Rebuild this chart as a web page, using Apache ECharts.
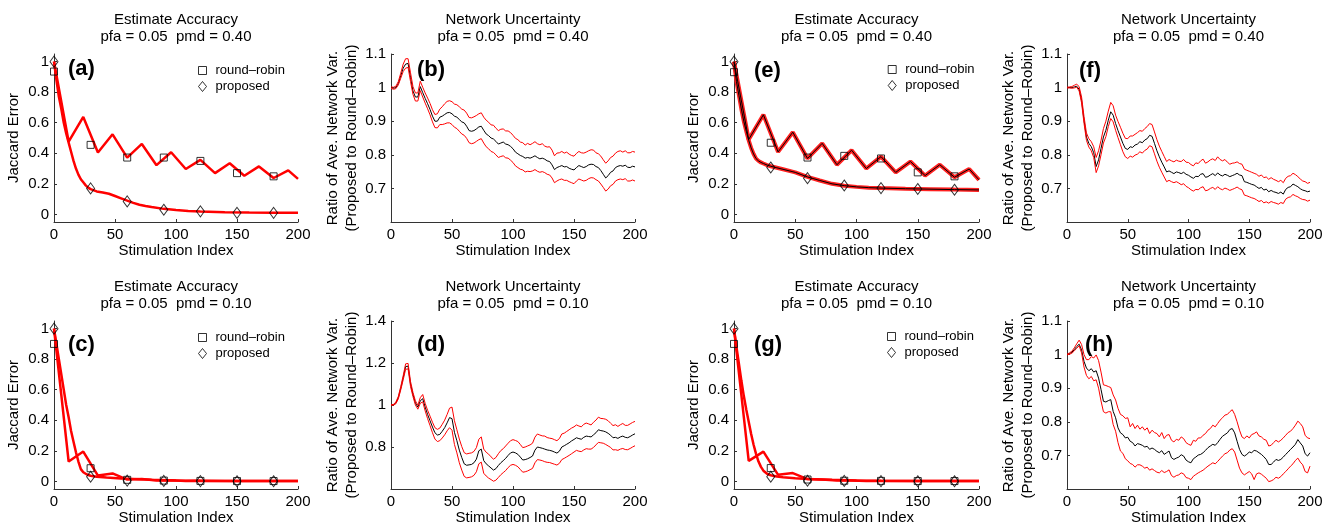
<!DOCTYPE html>
<html><head><meta charset="utf-8">
<script src="https://cdn.jsdelivr.net/npm/echarts@6/dist/echarts.min.js"></script>
<style>html,body{margin:0;padding:0;background:#fff}#c{width:1333px;height:527px}</style>
</head><body><div id="c"></div>
<script>
// ---------------- DATA ----------------
const MARK_X = [0, 30, 60, 90, 120, 150, 180];
const ACC_TICKS = [0, 0.2, 0.4, 0.6, 0.8, 1];
const NET_TICKS = [0.7, 0.8, 0.9, 1, 1.1];
const NET_TICKS_D = [0.8, 1, 1.2, 1.4];

// (a) accuracy, pmd = 0.40
const A_RR_X = [0,12,24,36,48,60,72,84,96,108,120,132,144,156,168,180,192,200];
const A_RR_Y = [1.0,.476,.638,.405,.524,.372,.461,.322,.407,.297,.357,.27,.335,.253,.314,.238,.288,.232];
const A_PR_X = [0,2,4,6,8,10,12,14,16,18,20,22,24,26,28,30,35,40,45,50,55,60,65,70,75,80,90,100,110,120,140,160,180,200];
const A_PR_Y = [1.0,.88,.77,.69,.6,.53,.47,.41,.35,.3,.26,.23,.21,.19,.175,.165,.15,.143,.135,.12,.105,.09,.075,.063,.055,.048,.036,.028,.022,.018,.014,.012,.011,.01];
const A_SQ_Y = [.935,.455,.372,.372,.35,.27,.249];
const A_DI_Y = [1.0,.17,.085,.03,.02,.01,.01];

// (c) accuracy, pmd = 0.10
const C_RR_X = [0,12,24,36,48,60,72,84,96,108,120,140,160,200];
const C_RR_Y = [1.0,.13,.195,.038,.052,.012,.015,.006,.008,.003,.004,.002,.002,.002];
const C_PR_X = [0,2,4,6,8,10,12,14,16,18,20,22,24,27,30,35,43,55,65,80,100,120,150,200];
const C_PR_Y = [1.0,.9,.8,.7,.6,.5,.42,.33,.26,.19,.13,.08,.06,.045,.037,.03,.025,.018,.015,.01,.006,.004,.003,.002];
const C_SQ_Y = [.9,.086,.01,.005,.003,.002,.002];
const C_DI_Y = [1.0,.03,.005,.003,.002,.001,.001];

// (e) accuracy, pmd = 0.40
const E_RR_X = [0,12,24,36,48,60,72,84,96,108,120,132,144,156,168,180,192,200];
const E_RR_Y = [1.0,.49,.652,.409,.538,.366,.465,.325,.42,.30,.378,.275,.346,.254,.325,.243,.297,.226];
const E_PR_X = [0,2,4,6,8,10,12,14,16,18,20,22,24,27,30,35,40,50,60,70,80,90,100,110,120,140,160,180,200];
const E_PR_Y = [1.0,.87,.78,.69,.61,.545,.485,.435,.395,.365,.35,.34,.333,.323,.315,.305,.295,.275,.245,.222,.2,.188,.18,.175,.172,.168,.165,.162,.16];
const E_SQ_Y = [.931,.469,.372,.383,.366,.275,.249];
const E_DI_Y = [1.0,.307,.237,.189,.172,.166,.161];

// (g) accuracy, pmd = 0.10
const G_RR_X = [0,12,24,36,48,60,72,84,96,108,120,140,160,200];
const G_RR_Y = [1.0,.134,.195,.043,.054,.015,.012,.006,.005,.003,.003,.002,.002,.002];
const G_PR_X = [0,2,4,6,8,10,12,14,16,18,20,22,24,27,30,35,40,50,60,70,80,100,120,150,200];
const G_PR_Y = [1.0,.88,.77,.66,.56,.47,.39,.31,.24,.18,.13,.095,.07,.05,.04,.032,.027,.02,.016,.013,.01,.006,.004,.003,.002];
const G_SQ_Y = [.9,.087,.012,.004,.003,.002,.002];
const G_DI_Y = [1.0,.03,.004,.003,.002,.001,.001];

// network uncertainty panels, sampled every 2 stimulations
const X_NET = [0,2,4,6,8,10,12,14,16,18,20,22,24,26,28,30,32,34,36,38,40,42,44,46,48,50,52,54,56,58,
60,62,64,66,68,70,72,74,76,78,80,82,84,86,88,90,92,94,96,98,100,102,104,106,108,110,112,114,116,118,
120,122,124,126,128,130,132,134,136,138,140,142,144,146,148,150,152,154,156,158,160,162,164,166,168,170,172,174,176,178,
180,182,184,186,188,190,192,194,196,198,200];

// (b)
const B_MEAN = [1.0,.998,1.0,1.012,1.035,1.058,1.07,1.072,1.03,.99,
.972,.972,1.003,.985,.968,.952,.935,.915,.9,.9,
.912,.915,.92,.925,.926,.922,.915,.912,.905,.898,
.895,.885,.872,.87,.872,.877,.883,.885,.873,.862,
.857,.85,.847,.84,.832,.835,.838,.832,.83,.825,
.818,.808,.803,.798,.795,.79,.792,.79,.793,.797,
.792,.788,.79,.787,.782,.78,.77,.756,.762,.765,
.768,.764,.765,.76,.757,.755,.762,.768,.765,.762,
.765,.77,.772,.771,.765,.762,.753,.742,.731,.738,
.748,.752,.762,.766,.768,.766,.769,.763,.762,.766,
.764];
const B_UP = [1.002,1.001,1.004,1.018,1.043,1.07,1.086,1.086,1.044,1.003,
.984,.984,1.019,1.001,.984,.969,.953,.934,.92,.922,
.936,.943,.952,.959,.961,.958,.951,.949,.943,.936,
.933,.924,.911,.91,.913,.917,.922,.925,.912,.903,
.897,.889,.888,.879,.872,.876,.877,.871,.871,.866,
.858,.849,.845,.838,.836,.829,.834,.83,.834,.839,
.833,.83,.833,.826,.823,.824,.814,.797,.805,.806,
.81,.805,.808,.802,.798,.796,.804,.81,.806,.805,
.808,.812,.815,.814,.806,.803,.796,.785,.775,.782,
.792,.796,.805,.81,.812,.808,.812,.806,.806,.81,
.808];
const B_LOW = [.998,.995,.997,1.008,1.028,1.048,1.058,1.06,1.018,.98,
.96,.96,.991,.972,.954,.937,.919,.898,.881,.88,
.89,.89,.892,.895,.895,.89,.882,.878,.87,.862,
.858,.849,.836,.833,.835,.84,.845,.848,.835,.824,
.818,.81,.807,.8,.792,.795,.797,.791,.79,.784,
.777,.767,.762,.757,.755,.749,.751,.75,.752,.756,
.751,.748,.75,.747,.742,.74,.731,.717,.722,.726,
.728,.724,.724,.72,.717,.714,.722,.728,.725,.722,
.724,.729,.732,.731,.726,.722,.713,.703,.692,.698,
.708,.712,.722,.726,.728,.726,.729,.722,.722,.725,
.722];

// (d)
const D_MEAN = [1.0,1.001,1.01,1.035,1.08,1.13,1.183,1.185,1.1,1.05,
1.01,.99,1.02,1.03,.99,.955,.925,.895,.868,.857,
.86,.875,.892,.915,.94,.935,.87,.83,.785,.75,
.72,.713,.715,.717,.725,.742,.782,.79,.735,.72,
.71,.7,.69,.697,.712,.725,.735,.746,.76,.772,
.776,.772,.765,.752,.738,.74,.744,.75,.757,.785,
.8,.797,.794,.79,.786,.784,.781,.776,.771,.78,
.8,.806,.813,.82,.829,.836,.844,.84,.837,.846,
.852,.85,.848,.858,.868,.882,.878,.876,.872,.865,
.856,.844,.846,.841,.848,.852,.846,.844,.85,.857,
.863];
const D_UP = [1.001,1.003,1.014,1.041,1.088,1.14,1.196,1.198,1.112,1.06,
1.02,.999,1.035,1.05,1.008,.975,.947,.918,.892,.884,
.89,.908,.928,.955,.985,.99,.925,.882,.838,.802,
.773,.767,.77,.772,.779,.797,.837,.848,.79,.775,
.766,.753,.742,.75,.768,.783,.792,.805,.818,.83,
.835,.831,.826,.812,.797,.8,.805,.81,.818,.847,
.862,.857,.853,.852,.845,.842,.84,.835,.83,.84,
.862,.866,.874,.882,.89,.896,.905,.9,.896,.908,
.914,.91,.905,.918,.928,.942,.936,.935,.932,.925,
.913,.902,.906,.898,.906,.912,.903,.903,.91,.917,
.922];
const D_LOW = [.999,.999,1.006,1.029,1.072,1.12,1.17,1.172,1.088,1.04,
1.0,.98,1.008,1.015,.972,.935,.902,.868,.838,.826,
.83,.843,.858,.877,.892,.88,.812,.772,.725,.69,
.66,.653,.655,.658,.665,.682,.72,.728,.675,.662,
.652,.645,.637,.642,.655,.668,.678,.688,.702,.713,
.717,.713,.706,.693,.68,.682,.686,.692,.698,.725,
.74,.738,.735,.73,.727,.726,.722,.718,.714,.722,
.74,.746,.753,.76,.768,.776,.784,.78,.778,.786,
.792,.79,.79,.798,.81,.822,.82,.818,.812,.805,
.798,.786,.787,.784,.79,.793,.788,.787,.793,.8,
.806];

// (f)
const F_MEAN = [1.0,1.0,1.0,1.002,1.004,.995,.962,.903,.853,.834,
.824,.806,.765,.785,.819,.853,.873,.903,.928,.918,
.893,.872,.853,.834,.819,.816,.824,.822,.829,.832,
.839,.836,.844,.848,.858,.855,.834,.812,.794,.778,
.764,.749,.752,.748,.744,.749,.747,.744,.748,.742,
.739,.734,.73,.736,.735,.742,.744,.733,.735,.74,
.744,.738,.746,.74,.737,.742,.739,.735,.738,.741,
.745,.74,.738,.72,.718,.715,.712,.71,.705,.7,
.703,.695,.698,.69,.694,.69,.688,.685,.689,.683,
.697,.703,.705,.713,.709,.705,.699,.695,.693,.69,
.692];
const F_UP = [1.001,1.002,1.003,1.007,1.01,1.003,.972,.914,.865,.848,
.839,.824,.792,.812,.843,.878,.9,.93,.956,.946,
.918,.899,.882,.864,.849,.848,.856,.856,.861,.866,
.872,.87,.878,.884,.893,.89,.868,.845,.826,.81,
.795,.78,.786,.782,.779,.784,.781,.78,.786,.778,
.777,.771,.767,.776,.774,.782,.787,.775,.779,.785,
.788,.783,.794,.786,.782,.786,.778,.772,.775,.776,
.779,.774,.772,.757,.754,.751,.748,.745,.742,.736,
.74,.732,.734,.727,.732,.727,.724,.72,.724,.717,
.73,.736,.738,.745,.741,.735,.728,.722,.72,.715,
.718];
const F_LOW = [.999,.999,.998,.999,1.001,.99,.954,.894,.843,.823,
.812,.792,.747,.767,.8,.835,.854,.884,.908,.898,
.873,.851,.83,.809,.794,.789,.796,.793,.799,.802,
.809,.805,.813,.817,.827,.824,.803,.781,.763,.748,
.734,.72,.724,.72,.717,.72,.716,.711,.714,.706,
.702,.696,.692,.697,.696,.702,.705,.693,.695,.7,
.703,.697,.705,.699,.696,.701,.698,.694,.697,.7,
.704,.699,.696,.68,.678,.675,.672,.67,.666,.661,
.664,.657,.66,.656,.661,.658,.656,.653,.658,.655,
.668,.673,.675,.682,.678,.675,.67,.667,.666,.662,
.665];

// (h)
const H_MEAN = [1.0,1.003,1.007,1.015,1.024,1.031,1.014,.98,.96,.952,
.958,.948,.952,.93,.896,.861,.859,.863,.866,.831,
.812,.782,.767,.762,.752,.754,.742,.738,.728,.735,
.733,.73,.725,.727,.718,.722,.718,.712,.708,.714,
.703,.708,.713,.693,.688,.692,.695,.702,.698,.686,
.681,.678,.69,.695,.701,.703,.708,.715,.723,.728,
.733,.73,.738,.748,.757,.762,.767,.777,.78,.767,
.742,.718,.703,.698,.703,.71,.708,.715,.713,.708,
.703,.696,.688,.673,.673,.68,.688,.685,.688,.695,
.703,.71,.718,.725,.733,.747,.737,.728,.705,.698,
.708];
const H_UP = [1.001,1.005,1.01,1.02,1.032,1.043,1.03,1.0,.985,.985,
.994,.99,.999,.982,.948,.91,.908,.905,.902,.88,
.865,.84,.822,.818,.81,.812,.785,.795,.78,.79,
.778,.785,.775,.782,.765,.775,.768,.765,.755,.768,
.75,.76,.762,.745,.74,.748,.745,.755,.75,.738,
.733,.73,.745,.742,.752,.752,.76,.765,.775,.78,
.79,.785,.795,.805,.812,.82,.822,.83,.836,.822,
.8,.775,.755,.75,.758,.752,.762,.765,.77,.758,
.755,.748,.745,.728,.73,.738,.745,.74,.745,.752,
.76,.768,.772,.78,.79,.802,.795,.785,.76,.752,
.75];
const H_LOW = [.999,1.001,1.004,1.011,1.019,1.026,1.005,.963,.938,.928,
.935,.922,.925,.9,.862,.83,.826,.83,.83,.792,
.772,.738,.713,.706,.69,.684,.676,.673,.665,.672,
.672,.668,.662,.665,.656,.66,.655,.65,.648,.655,
.649,.652,.657,.64,.635,.64,.642,.648,.645,.634,
.632,.628,.638,.643,.648,.652,.656,.662,.668,.673,
.678,.675,.682,.69,.698,.705,.708,.716,.72,.71,
.686,.662,.648,.642,.647,.652,.645,.628,.645,.648,
.644,.638,.632,.622,.624,.628,.635,.632,.637,.645,
.652,.66,.668,.675,.685,.692,.68,.672,.652,.648,
.668];

// ---------------- CHART ----------------
const FONT = "'Liberation Sans', Arial, Helvetica, sans-serif";
const AXC = '#333';
function pairs(xs, ys) { return xs.map((x, i) => [x, ys[i]]); }

const GRIDS = [
  {left: 54,   top: 54,  width: 244, height: 168}, // a
  {left: 391,  top: 54,  width: 244, height: 168}, // b
  {left: 54,   top: 321, width: 244, height: 168}, // c
  {left: 391,  top: 321, width: 244, height: 168}, // d
  {left: 734,  top: 54,  width: 245, height: 168}, // e
  {left: 1067, top: 54,  width: 243, height: 168}, // f
  {left: 734,  top: 321, width: 245, height: 168}, // g
  {left: 1067, top: 321, width: 243, height: 168}  // h
];
const KIND = ['acc','net','acc','net','acc','net','acc','net'];
const LETTERS = ['(a)','(b)','(c)','(d)','(e)','(f)','(g)','(h)'];
const PMD = ['0.40','0.40','0.10','0.10','0.40','0.40','0.10','0.10'];
const LETTER_POS = [[68,69],[417,70],[68,345],[417,345],[754,71],[1079,71],[754,345],[1085,345]];

const xAxes = GRIDS.map((g, i) => ({
  type: 'value', gridIndex: i, min: 0, max: 200, interval: 50,
  name: 'Stimulation Index', nameLocation: 'middle', nameGap: 20,
  nameTextStyle: {fontSize: 15, color: '#000', fontFamily: FONT},
  axisLine: {show: true, onZero: false, lineStyle: {color: AXC, width: 1}},
  axisTick: {show: true, inside: true, length: 3, lineStyle: {color: AXC}},
  axisLabel: {fontSize: 15, color: '#000', fontFamily: FONT, margin: 5},
  splitLine: {show: false}
}));

const yAxes = GRIDS.map((g, i) => {
  const base = {
    type: 'value', gridIndex: i, nameLocation: 'middle',
    nameTextStyle: {fontSize: 15, color: '#000', fontFamily: FONT, lineHeight: 19},
    axisLine: {show: true, onZero: false, lineStyle: {color: AXC, width: 1}},
    splitLine: {show: false}
  };
  if (KIND[i] === 'acc') {
    return Object.assign(base, {
      min: -0.05, max: 1.05, name: 'Jaccard Error', nameGap: 31,
      axisTick: {show: true, inside: true, length: 3, customValues: ACC_TICKS, lineStyle: {color: AXC}},
      axisLabel: {customValues: ACC_TICKS, fontSize: 15, color: '#000', fontFamily: FONT, margin: 5}
    });
  }
  const ticks = i === 3 ? NET_TICKS_D : NET_TICKS;
  return Object.assign(base, {
    min: 0.6, max: i === 3 ? 1.4 : 1.1,
    name: 'Ratio of Ave. Network Var.\n(Proposed to Round\u2013Robin)', nameGap: 29,
    axisTick: {show: true, inside: true, length: 3, customValues: ticks, lineStyle: {color: AXC}},
    axisLabel: {customValues: ticks, fontSize: 15, color: '#000', fontFamily: FONT, margin: 5}
  });
});

const series = [];
function line(i, data, color, width, name) {
  series.push({type: 'line', name: name, xAxisIndex: i, yAxisIndex: i, data: data,
    symbol: 'none', showSymbol: false, silent: true, animation: false,
    lineStyle: {color: color, width: width}, z: 2});
}
function markers(i, sq, di) {
  series.push({type: 'scatter', name: 'round\u2013robin', xAxisIndex: i, yAxisIndex: i,
    data: pairs(MARK_X, sq), symbol: 'rect', symbolSize: 7, silent: true, animation: false,
    itemStyle: {color: 'rgba(0,0,0,0)', borderColor: '#000', borderWidth: 1}, z: 3});
  series.push({type: 'scatter', name: 'proposed', xAxisIndex: i, yAxisIndex: i,
    data: pairs(MARK_X, di), symbol: 'diamond', symbolSize: [8, 11], silent: true, animation: false,
    itemStyle: {color: 'rgba(0,0,0,0)', borderColor: '#000', borderWidth: 1}, z: 3});
}
// accuracy panels
line(0, pairs(A_RR_X, A_RR_Y), '#ff0000', 2.5, 'rr_a');
line(0, pairs(A_PR_X, A_PR_Y), '#ff0000', 2.5, 'pr_a');
markers(0, A_SQ_Y, A_DI_Y);
line(2, pairs(C_RR_X, C_RR_Y), '#ff0000', 2.5, 'rr_c');
line(2, pairs(C_PR_X, C_PR_Y), '#ff0000', 2.5, 'pr_c');
markers(2, C_SQ_Y, C_DI_Y);
line(4, pairs(E_RR_X, E_RR_Y), '#ff2020', 4, 'rr_e');
line(4, pairs(E_PR_X, E_PR_Y), '#ff2020', 4, 'pr_e');
line(4, pairs(E_RR_X, E_RR_Y), '#000', 1, 'rr_e_m');
line(4, pairs(E_PR_X, E_PR_Y), '#000', 1, 'pr_e_m');
markers(4, E_SQ_Y, E_DI_Y);
line(6, pairs(G_RR_X, G_RR_Y), '#ff0000', 2.5, 'rr_g');
line(6, pairs(G_PR_X, G_PR_Y), '#ff0000', 2.5, 'pr_g');
markers(6, G_SQ_Y, G_DI_Y);
// network panels
[[1, B_MEAN, B_UP, B_LOW], [3, D_MEAN, D_UP, D_LOW], [5, F_MEAN, F_UP, F_LOW], [7, H_MEAN, H_UP, H_LOW]]
  .forEach(([i, m, u, l]) => {
    line(i, pairs(X_NET, m), '#000', 1, 'mean' + i);
    line(i, pairs(X_NET, u), '#ff0000', 1, 'up' + i);
    line(i, pairs(X_NET, l), '#ff0000', 1, 'low' + i);
  });

const SQ_ICON = 'path://M0,0L10,0L10,10L0,10Z';
const LEG_POS = [[198, 64, 0], [198, 331, 2], [887.7, 63, 4], [887, 330, 6]];
const legends = LEG_POS.map(([l, t]) => ({
  orient: 'vertical', left: l, top: t, itemWidth: 8, itemHeight: 10, itemGap: 3,
  selectedMode: false, padding: 0,
  data: [{name: 'round\u2013robin', icon: SQ_ICON}, {name: 'proposed', icon: 'diamond'}],
  itemStyle: {color: 'rgba(0,0,0,0)', borderColor: '#000', borderWidth: 1},
  textStyle: {fontSize: 13, color: '#000', fontFamily: FONT, padding: [0, 0, 0, 4]}
}));

const graphics = [];
GRIDS.forEach((g, i) => {
  const cx = g.left + g.width / 2;
  const row1 = g.top < 100;
  const t1 = KIND[i] === 'acc' ? 'Estimate Accuracy' : 'Network Uncertainty';
  const t2 = 'pfa = 0.05  pmd = ' + PMD[i];
  [[t1, row1 ? 20 : 287], [t2, row1 ? 36.5 : 304]].forEach(([txt, y]) => {
    graphics.push({type: 'text', silent: true, style: {
      text: txt, x: cx, y: y, font: "15px " + FONT, fill: '#000',
      textAlign: 'center', align: 'center', textVerticalAlign: 'middle', verticalAlign: 'middle'}});
  });
  graphics.push({type: 'text', silent: true, z: 10, style: {
    text: LETTERS[i], x: LETTER_POS[i][0], y: LETTER_POS[i][1], font: "bold 22px " + FONT, fill: '#000',
    textAlign: 'left', align: 'left', textVerticalAlign: 'middle', verticalAlign: 'middle'}});
});

const chart = echarts.init(document.getElementById('c'), null, {renderer: 'canvas'});
chart.setOption({
  animation: false,
  backgroundColor: '#fff',
  grid: GRIDS.map(g => Object.assign({containLabel: false}, g)),
  xAxis: xAxes,
  yAxis: yAxes,
  legend: legends,
  series: series,
  graphic: graphics
});
</script></body></html>
